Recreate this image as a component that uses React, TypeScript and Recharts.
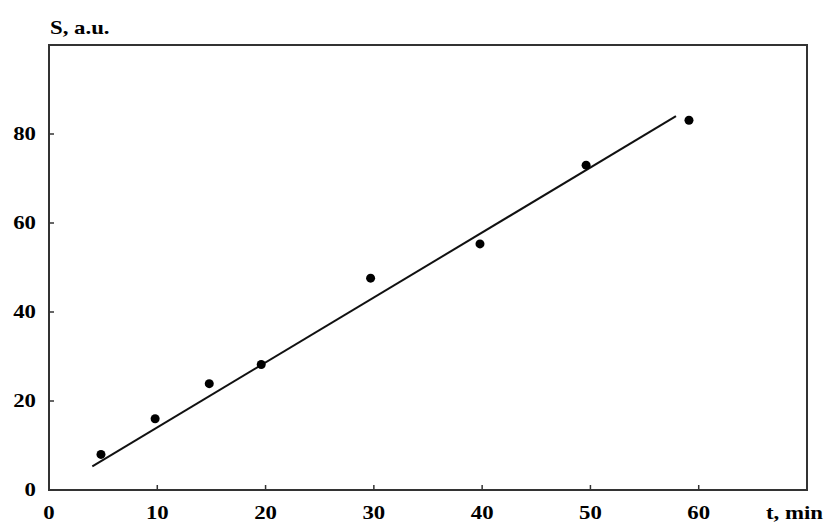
import React from 'react';
import { ComposedChart, Line, Scatter, XAxis, YAxis, ReferenceArea } from 'recharts';

// measured points, S (a.u.) vs t (min)
const times = [4.8, 9.8, 14.8, 19.6, 29.7, 39.8, 49.6, 59.1];
const signal = [8.0, 16.0, 23.9, 28.2, 47.6, 55.3, 73.0, 83.1];

// linear fit, drawn end to end
const fitTimes = [4.0, 57.9];
const fitSignal = [5.3, 84.0];

const xTicks = [0, 10, 20, 30, 40, 50, 60];
const yTicks = [0, 20, 40, 60, 80];

const points = times.map((t, i) => ({ t, s: signal[i] }));
const fitLine = fitTimes.map((t, i) => ({ t, s: fitSignal[i] }));

const FONT = '"Liberation Serif", "Times New Roman", serif';
const STRETCH = 1.2;

function XTick(props: any) {
  const { x, y, payload } = props;
  return (
    <g transform={`translate(${x},${y}) scale(${STRETCH},1)`}>
      <text x={0} y={0} textAnchor="middle" dominantBaseline="central"
        fontFamily={FONT} fontWeight="bold" fontSize={19} fill="#000">
        {payload.value}
      </text>
    </g>
  );
}

function YTick(props: any) {
  const { x, y, payload } = props;
  return (
    <g transform={`translate(${x},${y}) scale(${STRETCH},1)`}>
      <text x={0} y={0} textAnchor="end" dominantBaseline="central"
        fontFamily={FONT} fontWeight="bold" fontSize={19} fill="#000">
        {payload.value}
      </text>
    </g>
  );
}

const labelStyle: React.CSSProperties = {
  position: 'absolute',
  fontFamily: FONT,
  fontWeight: 'bold',
  fontSize: 19,
  lineHeight: '19px',
  color: '#000',
  transform: `scaleX(${STRETCH})`,
  transformOrigin: 'left center',
  whiteSpace: 'nowrap',
};

export default function App() {
  return (
    <div style={{ position: 'absolute', left: 0, top: 0, width: 832, height: 523, background: '#fff' }}>
      <ComposedChart width={832} height={523} margin={{ top: 45, right: 25, bottom: 0, left: 0 }}>
        <XAxis
          type="number"
          dataKey="t"
          domain={[0, 70]}
          ticks={xTicks}
          allowDataOverflow
          height={33}
          tickSize={-5}
          tickMargin={28}
          tick={<XTick />}
          axisLine={{ stroke: '#333', strokeWidth: 2 }}
          tickLine={{ stroke: '#333', strokeWidth: 1.5 }}
        />
        <YAxis
          type="number"
          dataKey="s"
          domain={[0, 100]}
          ticks={yTicks}
          allowDataOverflow
          width={49}
          tickSize={-5}
          tickMargin={18}
          tick={<YTick />}
          axisLine={{ stroke: '#333', strokeWidth: 2 }}
          tickLine={{ stroke: '#333', strokeWidth: 1.5 }}
        />
        <ReferenceArea x1={0} x2={70} y1={0} y2={100} fill="none" stroke="#333" strokeWidth={2} ifOverflow="visible" />
        <Line
          data={fitLine}
          dataKey="s"
          type="linear"
          stroke="#111"
          strokeWidth={2}
          dot={false}
          activeDot={false}
          isAnimationActive={false}
        />
        <Scatter
          data={points}
          dataKey="s"
          fill="#000"
          isAnimationActive={false}
          shape={(p: any) => <circle cx={p.cx} cy={p.cy} r={4.5} fill="#000" />}
        />
      </ComposedChart>
      <div style={{ ...labelStyle, left: 50, top: 18 }}>S, a.u.</div>
      <div style={{ ...labelStyle, left: 766, top: 503 }}>t, min</div>
    </div>
  );
}
